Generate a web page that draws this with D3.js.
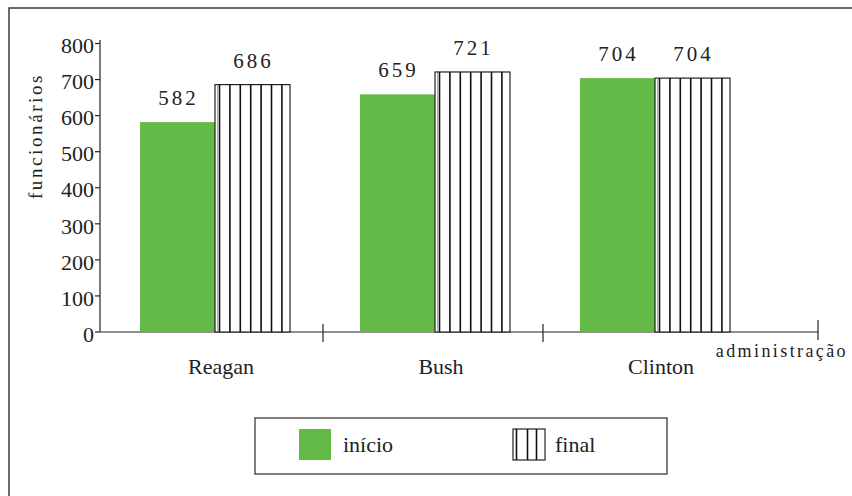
<!DOCTYPE html>
<html>
<head>
<meta charset="utf-8">
<script src="https://cdn.jsdelivr.net/npm/d3@7"></script>
</head>
<body style="margin:0">
<svg id="chart" width="852" height="496"></svg>
<script>
// Funcionários por administração (início e final de cada mandato)
const administrations = ["Reagan", "Bush", "Clinton"];
const seriesNames = ["início", "final"];
const inicioValues = [582, 659, 704];
const finalValues = [686, 721, 704];
const yTicks = [0, 100, 200, 300, 400, 500, 600, 700, 800];

const green = "#63ba47";
const ink = "#222";

const svg = d3.select("#chart");

// every text element gets the serif face
function addText(parent) {
  return parent.append("text")
    .attr("font-family", "Liberation Serif")
    .style("font-family", () => '"Liberation Serif"')
    .attr("fill", ink);
}

// outer frame
svg.append("rect")
  .attr("x", 9).attr("y", 8)
  .attr("width", 870).attr("height", 520)
  .attr("fill", "none").attr("stroke", "#3a3a3a").attr("stroke-width", 1.5);

const y = d3.scaleLinear().domain([0, 800]).range([332, 43.5]);
const x0 = d3.scaleBand().domain(administrations).range([105, 765]).paddingInner(0).paddingOuter(0);
const x1 = d3.scaleBand().domain(seriesNames).range([35, 185]);

const axisX = 100, axisEnd = 818;

// y axis
const yAxis = svg.append("g");
yAxis.append("line")
  .attr("x1", axisX).attr("x2", axisX)
  .attr("y1", y(0)).attr("y2", 40)
  .attr("stroke", ink).attr("stroke-width", 1.2);
yTicks.forEach(t => {
  yAxis.append("line")
    .attr("x1", axisX - 5).attr("x2", axisX)
    .attr("y1", y(t)).attr("y2", y(t))
    .attr("stroke", ink).attr("stroke-width", 1.2);
  addText(yAxis)
    .attr("x", 94).attr("y", y(t) + 2)
    .attr("dy", "0.35em")
    .attr("text-anchor", "end")
    .attr("font-size", 22)
    .text(t);
});

// y axis title
addText(svg)
  .attr("transform", "translate(42,136) rotate(-90)")
  .attr("text-anchor", "middle")
  .attr("font-size", 19)
  .attr("letter-spacing", 2.6)
  .text("funcionários");

// x axis
svg.append("line")
  .attr("x1", axisX).attr("x2", axisEnd)
  .attr("y1", y(0)).attr("y2", y(0))
  .attr("stroke", ink).attr("stroke-width", 1.2);
[x0(administrations[1]) - 2, x0(administrations[2]) - 2].forEach(bx => {
  svg.append("line")
    .attr("x1", bx).attr("x2", bx)
    .attr("y1", y(0) - 8).attr("y2", y(0) + 10)
    .attr("stroke", ink).attr("stroke-width", 1.2);
});
svg.append("line")
  .attr("x1", axisEnd).attr("x2", axisEnd)
  .attr("y1", y(0) - 12).attr("y2", y(0) + 8)
  .attr("stroke", ink).attr("stroke-width", 1.2);

addText(svg)
  .attr("x", 848).attr("y", 357)
  .attr("text-anchor", "end")
  .attr("font-size", 18)
  .attr("letter-spacing", 2.4)
  .text("administração");

administrations.forEach(a => {
  addText(svg)
    .attr("x", x0(a) + x0.bandwidth() / 2 + 6)
    .attr("y", 374)
    .attr("text-anchor", "middle")
    .attr("font-size", 22)
    .text(a);
});

// bars
function hatch(sel, x, yTop, h, offsets) {
  offsets.forEach(o => {
    sel.append("line")
      .attr("x1", x + o).attr("x2", x + o)
      .attr("y1", yTop).attr("y2", yTop + h)
      .attr("stroke", "#111").attr("stroke-width", 1.6);
  });
}

administrations.forEach((a, i) => {
  const g = svg.append("g").attr("transform", `translate(${x0(a)},0)`);
  const items = [
    { s: seriesNames[0], v: inicioValues[i] },
    { s: seriesNames[1], v: finalValues[i] }
  ];
  items.forEach((item, k) => {
    const bx = x1(item.s), bw = x1.bandwidth();
    const by = y(item.v), bh = y(0) - y(item.v);
    if (k === 0) {
      g.append("rect")
        .attr("x", bx).attr("y", by).attr("width", bw).attr("height", bh)
        .attr("fill", green);
    } else {
      g.append("rect")
        .attr("x", bx).attr("y", by).attr("width", bw).attr("height", bh)
        .attr("fill", "#fff").attr("stroke", "#222").attr("stroke-width", 1.2);
      g.append("line")
        .attr("x1", bx + 2.5).attr("x2", bx + 2.5)
        .attr("y1", by).attr("y2", by + bh)
        .attr("stroke", "#999").attr("stroke-width", 0.8);
      hatch(g, bx, by, bh, d3.range(0, 7).map(n => 4.5 + n * 10.4));
    }
    addText(g)
      .attr("x", bx + bw / 2 + 1)
      .attr("y", by - 17)
      .attr("text-anchor", "middle")
      .attr("font-size", 21)
      .attr("letter-spacing", 3)
      .text(item.v);
  });
});

// legend
const legend = svg.append("g");
legend.append("rect")
  .attr("x", 255).attr("y", 418).attr("width", 412).attr("height", 56)
  .attr("fill", "#fff").attr("stroke", "#3a3a3a").attr("stroke-width", 1.3);
legend.append("rect")
  .attr("x", 299).attr("y", 429).attr("width", 32).attr("height", 31)
  .attr("fill", green);
addText(legend)
  .attr("x", 343).attr("y", 452)
  .attr("font-size", 22)
  .text(seriesNames[0]);
legend.append("rect")
  .attr("x", 513).attr("y", 429).attr("width", 32).attr("height", 31)
  .attr("fill", "#fff").attr("stroke", "#222").attr("stroke-width", 1.2);
hatch(legend, 513, 429, 31, [3.5, 14.5, 23.5]);
addText(legend)
  .attr("x", 555).attr("y", 452)
  .attr("font-size", 22)
  .text(seriesNames[1]);
</script>
</body>
</html>
